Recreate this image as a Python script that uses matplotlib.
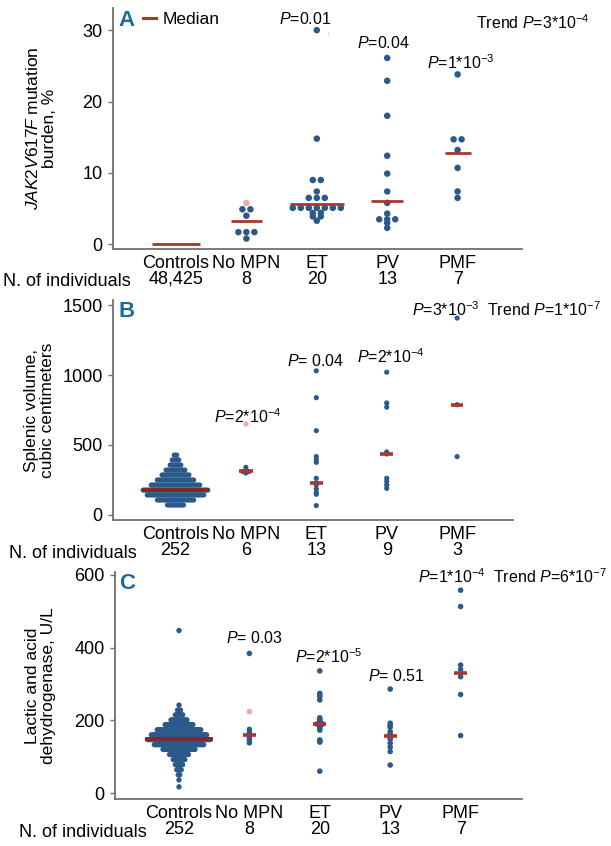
import numpy as np
import matplotlib as mpl
import matplotlib.pyplot as plt
from matplotlib import font_manager

# ---------------- data ----------------
cats = ['Controls', 'No MPN', 'ET', 'PV', 'PMF']
n_a = ['48,425', '8', '20', '13', '7']
n_b = ['252', '6', '13', '9', '3']
n_c = ['252', '8', '20', '13', '7']

# A: JAK2V617F mutation burden, %
a_nompn = [4.9, 4.9, 4.0, 1.7, 1.7, 1.7, 0.8]
a_et = [30.0, 14.8, 9.0, 9.0, 7.4, 6.5, 6.5, 6.5, 5.1, 5.1, 5.1, 5.1, 5.1, 5.1, 5.1,
        4.4, 4.4, 3.9, 3.9, 3.3]
a_pv = [26.1, 22.9, 18.0, 12.4, 9.9, 7.4, 5.8, 4.3, 3.5, 3.5, 3.5, 3.0, 2.3]
a_pmf = [23.8, 14.7, 14.7, 13.2, 10.7, 7.4, 6.5]
a_pink = 5.8            # highlighted No MPN subject
a_median = [0.0, 3.2, 5.6, 6.0, 12.8]
a_p = ['', '', r'$\it{P}$=0.01', r'$\it{P}$=0.04', r'$\it{P}$=1*10$^{-3}$']
a_trend = r'Trend $\it{P}$=3*10$^{-4}$'

# B: splenic volume, cm3 (controls given as swarm rows: level, count)
b_ctrl_level = [428, 393, 357, 321, 286, 250, 214, 178, 143, 107, 71]
b_ctrl_count = [3, 6, 9, 15, 21, 28, 37, 49, 43, 28, 13]
b_nompn = [340, 318, 310, 310, 300]
b_pink = 650
b_et = [1030, 838, 602, 417, 395, 376, 262, 230, 215, 186, 160, 148, 67]
b_pv = [1020, 800, 770, 450, 436, 262, 240, 214, 190]
b_pmf = [1407, 788, 417]
b_median = [176, 312, 226, 436, 788]
b_p = ['', r'$\it{P}$=2*10$^{-4}$', r'$\it{P}$= 0.04', r'$\it{P}$=2*10$^{-4}$',
       r'$\it{P}$=3*10$^{-3}$  Trend $\it{P}$=1*10$^{-7}$']

# C: lactic acid dehydrogenase, U/L
c_ctrl_level = [447, 242, 228, 215, 201, 188, 174, 160, 147, 133, 120, 106, 92, 78, 64, 50, 36, 17]
c_ctrl_count = [1, 1, 3, 6, 12, 20, 31, 39, 44, 35, 23, 14, 9, 6, 4, 2, 1, 1]
c_nompn = [384, 175, 166, 158, 152, 145, 138]
c_pink = 224
c_et = [336, 274, 270, 265, 256, 207, 203, 198, 194, 190, 190, 188, 185, 182, 178,
        173, 146, 143, 140, 60]
c_pv = [286, 192, 186, 181, 169, 163, 158, 152, 148, 137, 126, 114, 77]
c_pmf = [558, 513, 352, 340, 320, 271, 158]
c_median = [148, 160, 189, 158, 331]
c_p = ['', r'$\it{P}$= 0.03', r'$\it{P}$=2*10$^{-5}$', r'$\it{P}$= 0.51',
       r'$\it{P}$=1*10$^{-4}$  Trend $\it{P}$=6*10$^{-7}$']

# ---------------- style ----------------
names = {f.name for f in font_manager.fontManager.ttflist}
fam = 'Liberation Sans Narrow' if 'Liberation Sans Narrow' in names else 'Liberation Sans'
mpl.rcParams['font.family'] = [fam, 'DejaVu Sans']
mpl.rcParams['mathtext.fontset'] = 'custom'
mpl.rcParams['mathtext.rm'] = fam
mpl.rcParams['mathtext.it'] = fam + ':italic'
mpl.rcParams['mathtext.bf'] = fam + ':bold'

W, H = 611, 846
dot = '#2a5a8a'
red = '#a8372c'
dred = '#8e2323'
pink = '#f2a8a4'
grey = '#707070'
letter = '#1b6c97'
fs = 13
pfs = 11.5

fig = plt.figure(figsize=(W / 100, H / 100), dpi=100)


def px(x, y):
    return x / W, 1 - y / H


def make_axes(left, right, top, bottom, x0, step, ylo, yhi):
    ax = fig.add_axes([left / W, 1 - bottom / H, (right - left) / W, (bottom - top) / H])
    ax.set_xlim((left - x0) / step, (right - x0) / step)
    ax.set_ylim(ylo, yhi)
    for s in ['top', 'right']:
        ax.spines[s].set_visible(False)
    for s in ['left', 'bottom']:
        ax.spines[s].set_color(grey)
        ax.spines[s].set_linewidth(1.3)
    ax.tick_params(axis='y', length=3.5, width=1, color=grey, labelsize=fs, pad=4)
    ax.tick_params(axis='x', length=0, labelsize=fs, pad=4)
    return ax


def swarm(ax, i, vals, gap, size, color=dot):
    vals = np.asarray(vals, dtype=float)
    for v in np.unique(vals):
        k = int(np.sum(vals == v))
        xs = i + (np.arange(k) - (k - 1) / 2) * gap
        ax.scatter(xs, np.full(k, v), s=size, color=color, edgecolors='none', zorder=3)


def rows(ax, i, levels, counts, gap, size):
    for v, k in zip(levels, counts):
        xs = i + (np.arange(k) - (k - 1) / 2) * gap
        ax.scatter(xs, np.full(k, v), s=size, color=dot, edgecolors='none', zorder=3)


def medians(ax, meds, widths, lw, colors):
    for i, (m, w) in enumerate(zip(meds, widths)):
        ax.plot([i - w / 2, i + w / 2], [m, m], color=colors[i], lw=lw,
                solid_capstyle='butt', zorder=4)


def xlabels(ax, ns):
    ax.set_xticks(range(5))
    ax.set_xticklabels([c + '\n' + n for c, n in zip(cats, ns)], linespacing=0.92)


step = 70.4

# ---------------- panel A ----------------
ax = make_axes(113, 522, 8, 249, 176, step, -0.66, 33.1)
ax.set_yticks([0, 10, 20, 30])
g = 8 / step
swarm(ax, 1, a_nompn, g, 22)
swarm(ax, 2, a_et, g, 22)
swarm(ax, 3, a_pv, g, 22)
swarm(ax, 4, a_pmf, g, 22)
ax.scatter([1], [a_pink], s=22, color=pink, edgecolors='none', zorder=3)
medians(ax, a_median, [0.67, 0.43, 0.77, 0.45, 0.37], 2.0, [red] * 5)
xlabels(ax, n_a)
ax.set_ylabel(r'$\it{JAK2V617F}$ mutation' + '\nburden, %', fontsize=12.5, linespacing=1.05)
ax.yaxis.set_label_coords((57 - 113) / 409, 0.5)
ax.text(2.15, 29.4, '\u2191', fontsize=5, color='#aaaaaa', ha='center', va='center')
fig.text(*px(127, 21), 'A', fontsize=16, fontweight='bold', color=letter, ha='center', va='center')
fig.lines.append(plt.Line2D([143 / W, 156 / W], [1 - 18.5 / H] * 2, color=red, lw=2.2,
                            transform=fig.transFigure))
fig.text(*px(163, 20), 'Median', fontsize=12.5, ha='left', va='center')
fig.text(*px(305, 19), a_p[2], fontsize=pfs, ha='center', va='center')
fig.text(*px(383, 43), a_p[3], fontsize=pfs, ha='center', va='center')
fig.text(*px(461, 63), a_p[4], fontsize=pfs, ha='center', va='center')
fig.text(*px(476, 23), a_trend, fontsize=pfs, ha='left', va='center')
fig.text(*px(131, 282), 'N. of individuals', fontsize=fs, ha='right', va='center')

# ---------------- panel B ----------------
ax = make_axes(113, 513, 300, 520, 175.5, step, -36, 1536)
ax.set_yticks([0, 500, 1000, 1500])
g = 6 / step
rows(ax, 0, b_ctrl_level, b_ctrl_count, 1.35 / step, 13)
swarm(ax, 1, b_nompn, g, 14)
swarm(ax, 2, b_et, g, 14)
swarm(ax, 3, b_pv, g, 14)
swarm(ax, 4, b_pmf, g, 14)
ax.scatter([1], [b_pink], s=14, color=pink, edgecolors='none', zorder=3)
medians(ax, b_median, [0.95, 0.19, 0.18, 0.18, 0.18], 2.6, [dred] + [red] * 4)
xlabels(ax, n_b)
ax.set_ylabel('Splenic volume,\ncubic centimeters', fontsize=12.5, linespacing=1.05)
ax.yaxis.set_label_coords((55 - 113) / 400, 0.5)
fig.text(*px(127, 311), 'B', fontsize=16, fontweight='bold', color=letter, ha='center', va='center')
fig.text(*px(248, 417), b_p[1], fontsize=pfs, ha='center', va='center')
fig.text(*px(316, 361), b_p[2], fontsize=pfs, ha='center', va='center')
fig.text(*px(391, 357), b_p[3], fontsize=pfs, ha='center', va='center')
fig.text(*px(601, 310), b_p[4], fontsize=pfs, ha='right', va='center')
fig.text(*px(137, 553), 'N. of individuals', fontsize=fs, ha='right', va='center')

# ---------------- panel C ----------------
ax = make_axes(115, 522, 572, 799, 179, step, -16.5, 608)
ax.set_yticks([0, 200, 400, 600])
rows(ax, 0, c_ctrl_level, c_ctrl_count, 1.45 / step, 15)
swarm(ax, 1, c_nompn, g, 16)
swarm(ax, 2, c_et, g, 16)
swarm(ax, 3, c_pv, g, 16)
swarm(ax, 4, c_pmf, g, 16)
ax.scatter([1], [c_pink], s=16, color=pink, edgecolors='none', zorder=3)
medians(ax, c_median, [0.96, 0.18, 0.18, 0.18, 0.18], 2.6, [dred] + [red] * 4)
xlabels(ax, n_c)
ax.set_ylabel('Lactic and acid\ndehydrogenase, U/L', fontsize=12.5, linespacing=1.05)
ax.yaxis.set_label_coords((56 - 115) / 407, 0.5)
fig.text(*px(127, 583), 'C', fontsize=16, fontweight='bold', color=letter, ha='center', va='center')
fig.text(*px(254, 638), c_p[1], fontsize=pfs, ha='center', va='center')
fig.text(*px(329, 657), c_p[2], fontsize=pfs, ha='center', va='center')
fig.text(*px(396, 676), c_p[3], fontsize=pfs, ha='center', va='center')
fig.text(*px(607, 577), c_p[4], fontsize=pfs, ha='right', va='center')
fig.text(*px(147, 832), 'N. of individuals', fontsize=fs, ha='right', va='center')

fig.savefig('out.png', dpi=100)
